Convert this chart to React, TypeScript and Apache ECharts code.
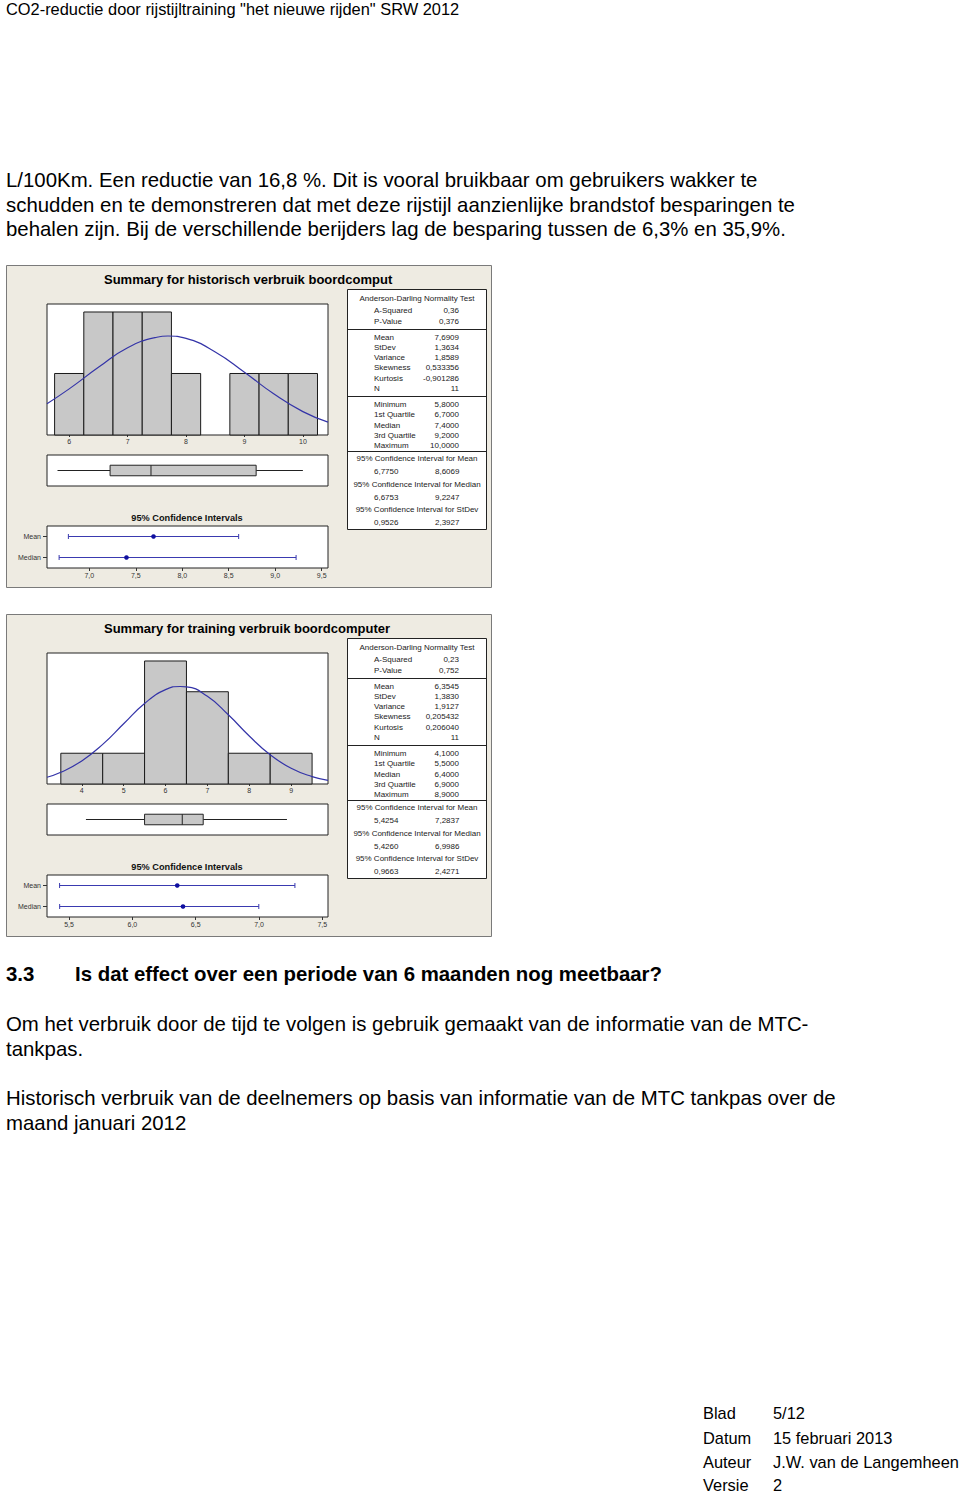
import React, { useEffect, useRef } from "react";
import * as echarts from "echarts";

// ---------- page texts ----------
const headerText = 'CO2-reductie door rijstijltraining "het nieuwe rijden" SRW 2012';
const introLines = [
  "L/100Km. Een reductie van 16,8 %. Dit is vooral bruikbaar om gebruikers wakker te",
  "schudden en te demonstreren dat met deze rijstijl aanzienlijke brandstof besparingen te",
  "behalen zijn. Bij de verschillende berijders lag de besparing tussen de 6,3% en 35,9%.",
];
const sectionNumber = "3.3";
const sectionTitle = "Is dat effect over een periode van 6 maanden nog meetbaar?";
const para1Lines = [
  "Om het verbruik door de tijd te volgen is gebruik gemaakt van de informatie van de MTC-",
  "tankpas.",
];
const para2Lines = [
  "Historisch verbruik van de deelnemers op basis van informatie van de MTC tankpas over de",
  "maand januari 2012",
];
const footerKeys = ["Blad", "Datum", "Auteur", "Versie"];
const footerValues = ["5/12", "15 februari 2013", "J.W. van de Langemheen", "2"];

// ---------- shared labels ----------
const adTitle = "Anderson-Darling Normality Test";
const adLabels = ["A-Squared", "P-Value"];
const momentLabels = ["Mean", "StDev", "Variance", "Skewness", "Kurtosis", "N"];
const quantLabels = ["Minimum", "1st Quartile", "Median", "3rd Quartile", "Maximum"];
const ciHeaders = [
  "95% Confidence Interval for Mean",
  "95% Confidence Interval for Median",
  "95% Confidence Interval for StDev",
];
const ciTitle = "95% Confidence Intervals";
const ciRows = ["Mean", "Median"];

// ---------- panel 1: historisch ----------
const title1 = "Summary for historisch verbruik boordcomput";
const binCenters1 = [6, 6.5, 7, 7.5, 8, 8.5, 9, 9.5, 10];
const counts1 = [1, 2, 2, 2, 1, 0, 1, 1, 1];
const binWidth1 = 0.5;
const curveX1 = [5.62, 6, 6.5, 7, 7.5, 7.69, 8, 8.5, 9, 9.5, 10, 10.43];
const curveY1 = [0.51, 0.75, 1.1, 1.42, 1.59, 1.61, 1.57, 1.35, 1.02, 0.67, 0.38, 0.21];
const histTicks1 = [6, 7, 8, 9, 10];
const histRange1 = [5.62, 10.43];
const histYMax1 = 2.13;
const box1 = [5.8, 6.7, 7.4, 9.2, 10.0];
const ciMean1 = [6.775, 7.6909, 8.6069];
const ciMedian1 = [6.6753, 7.4, 9.2247];
const ciTicks1 = [7, 7.5, 8, 8.5, 9, 9.5];
const ciRange1 = [6.545, 9.568];
const adValues1 = ["0,36", "0,376"];
const momentValues1 = ["7,6909", "1,3634", "1,8589", "0,533356", "-0,901286", "11"];
const quantValues1 = ["5,8000", "6,7000", "7,4000", "9,2000", "10,0000"];
const ciValues1 = [["6,7750", "8,6069"], ["6,6753", "9,2247"], ["0,9526", "2,3927"]];

// ---------- panel 2: training ----------
const title2 = "Summary for training verbruik boordcomputer";
const binCenters2 = [4, 5, 6, 7, 8, 9];
const counts2 = [1, 1, 4, 3, 1, 1];
const binWidth2 = 1;
const curveX2 = [3.17, 3.5, 4, 4.5, 5, 5.5, 6, 6.35, 6.5, 7, 7.5, 8, 8.5, 9, 9.5, 9.88];
const curveY2 = [0.22, 0.38, 0.75, 1.29, 1.96, 2.62, 3.07, 3.17, 3.16, 2.85, 2.25, 1.56, 0.95, 0.51, 0.24, 0.12];
const histTicks2 = [4, 5, 6, 7, 8, 9];
const histRange2 = [3.17, 9.88];
const histYMax2 = 4.26;
const box2 = [4.1, 5.5, 6.4, 6.9, 8.9];
const ciMean2 = [5.4254, 6.3545, 7.2837];
const ciMedian2 = [5.426, 6.4, 6.9986];
const ciTicks2 = [5.5, 6, 6.5, 7, 7.5];
const ciRange2 = [5.326, 7.545];
const adValues2 = ["0,23", "0,752"];
const momentValues2 = ["6,3545", "1,3830", "1,9127", "0,205432", "0,206040", "11"];
const quantValues2 = ["4,1000", "5,5000", "6,4000", "6,9000", "8,9000"];
const ciValues2 = [["5,4254", "7,2837"], ["5,4260", "6,9986"], ["0,9663", "2,4271"]];

// ---------- styling ----------
const BODY_FONT = "'Liberation Sans', Arial, sans-serif";
const SMALL_FONT = "'Liberation Sans', Arial, sans-serif";
const PANEL_BG = "#eeebe2";
const BAR_FILL = "#c8c8c8";
const CURVE = "#3434a8";
const CI_LINE = "#3a3ab0";
const CI_DOT = "#1010a0";

const fmt1 = (v: number) => v.toFixed(1).replace(".", ",");

function txt(text: string, x: number, y: number, font: string, align = "left", fill = "#000") {
  return {
    type: "text",
    z: 50,
    silent: true,
    style: {
      text,
      x,
      y,
      font,
      fill,
      align,
      verticalAlign: "middle",
      textAlign: align,
      textVerticalAlign: "middle",
    },
  };
}

type PanelData = {
  title: string;
  binCenters: number[];
  counts: number[];
  binWidth: number;
  curveX: number[];
  curveY: number[];
  histTicks: number[];
  histRange: number[];
  histYMax: number;
  box: number[];
  ciMean: number[];
  ciMedian: number[];
  ciTicks: number[];
  ciRange: number[];
  adValues: string[];
  momentValues: string[];
  quantValues: string[];
  ciValues: string[][];
};

function buildPanel(k: number, top: number, d: PanelData, opt: any) {
  const gi = k * 3;
  const gridBase = {
    left: 47,
    width: 281,
    show: true,
    backgroundColor: "#fff",
    borderColor: "#222",
    borderWidth: 1,
  };
  opt.grid.push(
    { ...gridBase, top: top + 39, height: 131 },
    { ...gridBase, top: top + 190, height: 31 },
    { ...gridBase, top: top + 261, height: 42 }
  );
  const tickStyle = { color: "#333", width: 1 };
  const labelBase = { fontSize: 7, color: "#333", fontFamily: SMALL_FONT };
  opt.xAxis.push(
    {
      type: "value",
      gridIndex: gi,
      min: d.histRange[0],
      max: d.histRange[1],
      splitLine: { show: false },
      axisLine: { show: false },
      axisTick: { show: true, length: 2, customValues: d.histTicks, lineStyle: tickStyle },
      axisLabel: { ...labelBase, margin: 3, customValues: d.histTicks },
    },
    {
      type: "value",
      gridIndex: gi + 1,
      min: d.histRange[0],
      max: d.histRange[1],
      show: false,
    },
    {
      type: "value",
      gridIndex: gi + 2,
      min: d.ciRange[0],
      max: d.ciRange[1],
      splitLine: { show: false },
      axisLine: { show: false },
      axisTick: { show: true, length: 3, customValues: d.ciTicks, lineStyle: tickStyle },
      axisLabel: { ...labelBase, margin: 4, customValues: d.ciTicks, formatter: (v: number) => fmt1(v) },
    }
  );
  opt.yAxis.push(
    { type: "value", gridIndex: gi, min: 0, max: d.histYMax, show: false },
    { type: "value", gridIndex: gi + 1, min: 0, max: 1, show: false },
    {
      type: "category",
      gridIndex: gi + 2,
      data: ciRows,
      inverse: true,
      axisLine: { show: false },
      axisTick: { show: true, length: 4, alignWithLabel: true, lineStyle: tickStyle },
      axisLabel: { ...labelBase, margin: 6 },
      splitLine: { show: false },
    }
  );

  // histogram bars
  opt.series.push({
    type: "custom",
    xAxisIndex: gi,
    yAxisIndex: gi,
    silent: true,
    clip: false,
    data: d.binCenters.map((c, i) => [c - d.binWidth / 2, c + d.binWidth / 2, d.counts[i]]),
    encode: { x: [0, 1], y: 2 },
    renderItem: (params: any, api: any) => {
      const p0 = api.coord([api.value(0), api.value(2)]);
      const p1 = api.coord([api.value(1), 0]);
      if (api.value(2) <= 0) return null;
      return {
        type: "rect",
        shape: { x: p0[0], y: p0[1], width: p1[0] - p0[0], height: p1[1] - p0[1] },
        style: { fill: BAR_FILL, stroke: "#1a1a1a", lineWidth: 1 },
      };
    },
  });
  // normal fit curve
  opt.series.push({
    type: "line",
    xAxisIndex: gi,
    yAxisIndex: gi,
    silent: true,
    smooth: true,
    showSymbol: false,
    symbol: "none",
    data: d.curveX.map((x, i) => [x, d.curveY[i]]),
    lineStyle: { color: CURVE, width: 1.2 },
    z: 5,
  });
  // boxplot
  opt.series.push({
    type: "custom",
    xAxisIndex: gi + 1,
    yAxisIndex: gi + 1,
    silent: true,
    data: [d.box],
    encode: { x: [0, 1, 2, 3, 4] },
    renderItem: (params: any, api: any) => {
      const v = [0, 1, 2, 3, 4].map((i) => api.value(i));
      const yMid = api.coord([v[0], 0.5])[1];
      const yTop = api.coord([v[0], 0.67])[1];
      const yBot = api.coord([v[0], 0.33])[1];
      const xs = v.map((x) => api.coord([x, 0.5])[0]);
      const ls = { stroke: "#222", lineWidth: 1 };
      return {
        type: "group",
        children: [
          { type: "line", shape: { x1: xs[0], y1: yMid, x2: xs[1], y2: yMid }, style: ls },
          { type: "line", shape: { x1: xs[3], y1: yMid, x2: xs[4], y2: yMid }, style: ls },
          {
            type: "rect",
            shape: { x: xs[1], y: yTop, width: xs[3] - xs[1], height: yBot - yTop },
            style: { fill: BAR_FILL, stroke: "#222", lineWidth: 1 },
          },
          { type: "line", shape: { x1: xs[2], y1: yTop, x2: xs[2], y2: yBot }, style: ls },
        ],
      };
    },
  });
  // confidence intervals
  opt.series.push({
    type: "custom",
    xAxisIndex: gi + 2,
    yAxisIndex: gi + 2,
    silent: true,
    data: [
      [0, d.ciMean[0], d.ciMean[1], d.ciMean[2]],
      [1, d.ciMedian[0], d.ciMedian[1], d.ciMedian[2]],
    ],
    encode: { y: 0, x: [1, 2, 3] },
    renderItem: (params: any, api: any) => {
      const row = api.value(0);
      const pLo = api.coord([api.value(1), row]);
      const pEst = api.coord([api.value(2), row]);
      const pHi = api.coord([api.value(3), row]);
      const y = pLo[1];
      const ls = { stroke: CI_LINE, lineWidth: 1 };
      return {
        type: "group",
        children: [
          { type: "line", shape: { x1: pLo[0], y1: y, x2: pHi[0], y2: y }, style: ls },
          { type: "line", shape: { x1: pLo[0], y1: y - 2.5, x2: pLo[0], y2: y + 2.5 }, style: ls },
          { type: "line", shape: { x1: pHi[0], y1: y - 2.5, x2: pHi[0], y2: y + 2.5 }, style: ls },
          { type: "circle", shape: { cx: pEst[0], cy: y, r: 2.3 }, style: { fill: CI_DOT } },
        ],
      };
    },
  });

  // ----- graphics -----
  const g = opt.graphic;
  g.push({
    type: "rect",
    z: -10,
    silent: true,
    shape: { x: 6.5, y: top + 0.5, width: 485, height: 322 },
    style: { fill: PANEL_BG, stroke: "#7a7a7a", lineWidth: 1 },
  });
  g.push(txt(d.title, 104, top + 14, `bold 13px ${SMALL_FONT}`));
  g.push(txt(ciTitle, 187, top + 253, `bold 9.2px ${SMALL_FONT}`, "center", "#111"));

  // table
  const tx = 347.5;
  const tw = 139;
  g.push({
    type: "rect",
    z: -5,
    silent: true,
    shape: { x: tx, y: top + 24.5, width: tw, height: 240 },
    style: { fill: "#fff", stroke: "#222", lineWidth: 1 },
  });
  [64.5, 131.5, 186.5].forEach((sy) =>
    g.push({
      type: "line",
      z: -4,
      silent: true,
      shape: { x1: tx, y1: top + sy, x2: tx + tw, y2: top + sy },
      style: { stroke: "#222", lineWidth: 1 },
    })
  );
  const sf = `8px ${SMALL_FONT}`;
  const LX = 374;
  const VX = 459;
  const CX = 417;
  g.push(txt(adTitle, CX, top + 33, sf, "center", "#222"));
  const adY = [45, 56.5];
  adLabels.forEach((l, i) => {
    g.push(txt(l, LX, top + adY[i], sf, "left", "#222"));
    g.push(txt(d.adValues[i], VX, top + adY[i], sf, "right", "#222"));
  });
  const mY = [72, 82, 92, 102.5, 113, 123.5];
  momentLabels.forEach((l, i) => {
    g.push(txt(l, LX, top + mY[i], sf, "left", "#222"));
    g.push(txt(d.momentValues[i], VX, top + mY[i], sf, "right", "#222"));
  });
  const qY = [139, 149.5, 160, 170, 180.5];
  quantLabels.forEach((l, i) => {
    g.push(txt(l, LX, top + qY[i], sf, "left", "#222"));
    g.push(txt(d.quantValues[i], VX, top + qY[i], sf, "right", "#222"));
  });
  const hY = [193, 219, 244];
  const vY = [206, 232, 257.5];
  ciHeaders.forEach((h, i) => {
    g.push(txt(h, CX, top + hY[i], sf, "center", "#222"));
    g.push(txt(d.ciValues[i][0], LX, top + vY[i], sf, "left", "#222"));
    g.push(txt(d.ciValues[i][1], 435, top + vY[i], sf, "left", "#222"));
  });
}

function buildOption() {
  const opt: any = {
    animation: false,
    backgroundColor: "#fff",
    grid: [],
    xAxis: [],
    yAxis: [],
    series: [],
    graphic: [],
  };
  const p1: PanelData = {
    title: title1,
    binCenters: binCenters1,
    counts: counts1,
    binWidth: binWidth1,
    curveX: curveX1,
    curveY: curveY1,
    histTicks: histTicks1,
    histRange: histRange1,
    histYMax: histYMax1,
    box: box1,
    ciMean: ciMean1,
    ciMedian: ciMedian1,
    ciTicks: ciTicks1,
    ciRange: ciRange1,
    adValues: adValues1,
    momentValues: momentValues1,
    quantValues: quantValues1,
    ciValues: ciValues1,
  };
  const p2: PanelData = {
    title: title2,
    binCenters: binCenters2,
    counts: counts2,
    binWidth: binWidth2,
    curveX: curveX2,
    curveY: curveY2,
    histTicks: histTicks2,
    histRange: histRange2,
    histYMax: histYMax2,
    box: box2,
    ciMean: ciMean2,
    ciMedian: ciMedian2,
    ciTicks: ciTicks2,
    ciRange: ciRange2,
    adValues: adValues2,
    momentValues: momentValues2,
    quantValues: quantValues2,
    ciValues: ciValues2,
  };
  buildPanel(0, 265, p1, opt);
  buildPanel(1, 614, p2, opt);

  const g = opt.graphic;
  g.push(txt(headerText, 6, 9, `16.4px ${BODY_FONT}`));
  const bodyFont = `20.4px ${BODY_FONT}`;
  const introY = [180, 204.5, 229];
  introLines.forEach((l, i) => g.push(txt(l, 6, introY[i], bodyFont)));
  g.push(txt(sectionNumber, 6, 974, `bold 20.4px ${BODY_FONT}`));
  g.push(txt(sectionTitle, 75, 974, `bold 20.4px ${BODY_FONT}`));
  const p1Y = [1024, 1048.5];
  para1Lines.forEach((l, i) => g.push(txt(l, 6, p1Y[i], bodyFont)));
  const p2Y = [1098, 1122.5];
  para2Lines.forEach((l, i) => g.push(txt(l, 6, p2Y[i], bodyFont)));
  const fY = [1413, 1438, 1462, 1485];
  const footFont = `16.4px ${BODY_FONT}`;
  footerKeys.forEach((k, i) => {
    g.push(txt(k, 703, fY[i], footFont));
    g.push(txt(footerValues[i], 773, fY[i], footFont));
  });
  return opt;
}

export default function App() {
  const ref = useRef<HTMLDivElement>(null);
  useEffect(() => {
    if (!ref.current) return;
    const chart = echarts.init(ref.current, null, { renderer: "svg" });
    chart.setOption(buildOption());
    return () => chart.dispose();
  }, []);
  return (
    <div
      ref={ref}
      style={{ position: "absolute", left: 0, top: 0, width: 960, height: 1494 }}
    />
  );
}
